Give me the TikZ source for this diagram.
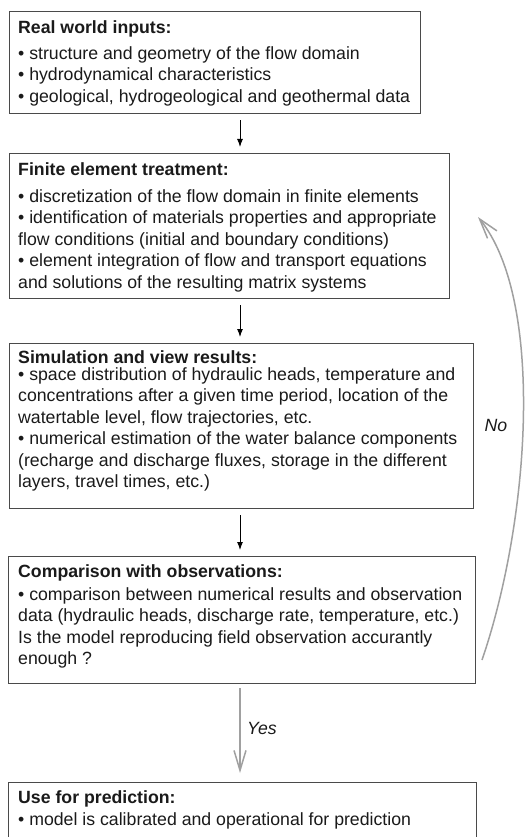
\documentclass[tikz,border=0pt]{standalone}
\usepackage{fontspec}
\setmainfont{Liberation Sans}
\usetikzlibrary{arrows.meta}
\definecolor{boxline}{HTML}{4A4A4A}
\definecolor{fbcol}{HTML}{A0A0A0}
\definecolor{txt}{HTML}{1A1A1A}
\tikzset{
  box/.style={draw=boxline, line width=1.3pt, rectangle, inner sep=0pt, anchor=north west},
  head/.style={anchor=north west, inner sep=0pt, align=left, font=\fontsize{17.7}{21.5}\selectfont\bfseries, text=txt},
  body/.style={anchor=north west, inner sep=0pt, align=left, font=\fontsize{17.7}{21.5}\selectfont, text=txt},
  flow/.style={-{Latex[length=8pt,width=6pt]}, line width=1pt, black},
  fback/.style={fbcol, line width=1.5pt, -{Straight Barb[length=20pt,width=12pt,line width=1.5pt]}},
  lab/.style={font=\fontsize{17.7}{21.5}\selectfont\itshape, text=txt, inner sep=0pt}
}
\begin{document}
\begin{tikzpicture}[x=1pt,y=-1pt]
\useasboundingbox (0,0) rectangle (531,837);
\clip (0,0) rectangle (531,837);
\fill[white] (0,0) rectangle (531,837);
% boxes
\node[box, minimum width=411pt, minimum height=102pt] (b1) at (9,11) {};
\node[box, minimum width=440pt, minimum height=145pt] (b2) at (9,153) {};
\node[box, minimum width=464pt, minimum height=165pt] (b3) at (9,343) {};
\node[box, minimum width=467pt, minimum height=127pt] (b4) at (8,556) {};
\node[box, minimum width=468pt, minimum height=100pt] (b5) at (8,782) {};
% texts
\node[head] (h1) at (18,17.95) {\strut Real world inputs:};
\node[body] (t1) at (18,43.95) {\strut • structure and geometry of the flow domain\\\strut • hydrodynamical characteristics\\\strut • geological, hydrogeological and geothermal data};
\node[head] (h2) at (18,159.95) {\strut Finite element treatment:};
\node[body] (t2) at (18,186.95) {\strut • discretization of the flow domain in finite elements\\\strut • identification of materials properties and appropriate\\\strut flow conditions (initial and boundary conditions)\\\strut • element integration of flow and transport equations\\\strut and solutions of the resulting matrix systems};
\node[head] (h3) at (18,348.45) {\strut Simulation and view results:};
\node[body] (t3) at (18,364.95) {\strut • space distribution of hydraulic heads, temperature and\\\strut concentrations after a given time period, location of the\\\strut watertable level, flow trajectories, etc.\\\strut • numerical estimation of the water balance components\\\strut (recharge and discharge fluxes, storage in the different\\\strut layers, travel times, etc.)};
\node[head] (h4) at (18,561.95) {\strut Comparison with observations:};
\node[body] (t4) at (18,584.95) {\strut • comparison between numerical results and observation\\\strut data (hydraulic heads, discharge rate, temperature, etc.)\\\strut Is the model reproducing field observation accurantly\\\strut enough ?};
\node[head] (h5) at (18,787.95) {\strut Use for prediction:};
\node[body] (t5) at (18,809.95) {\strut • model is calibrated and operational for prediction};
% arrows
\coordinate (ax) at (240,0);
\draw[flow, shorten <=6pt, shorten >=6pt] (b1.south -| ax) -- (b2.north -| ax);
\draw[flow, shorten <=6pt, shorten >=6pt] (b2.south -| ax) -- (b3.north -| ax);
\draw[flow, shorten <=6pt, shorten >=6pt] (b3.south -| ax) -- (b4.north -| ax);
\draw[fback, shorten <=4pt, shorten >=9pt] (b4.south -| ax) -- (b5.north -| ax);
\node[lab, anchor=west] (yes) at (247,728) {Yes};
% feedback
\coordinate (ns) at (482,660);
\coordinate (ne) at (478,217);
\draw[fback] (ns) .. controls (530,520) and (545,300) .. (ne);
\node[lab] (no) at (496,425) {No};
\end{tikzpicture}
\end{document}
